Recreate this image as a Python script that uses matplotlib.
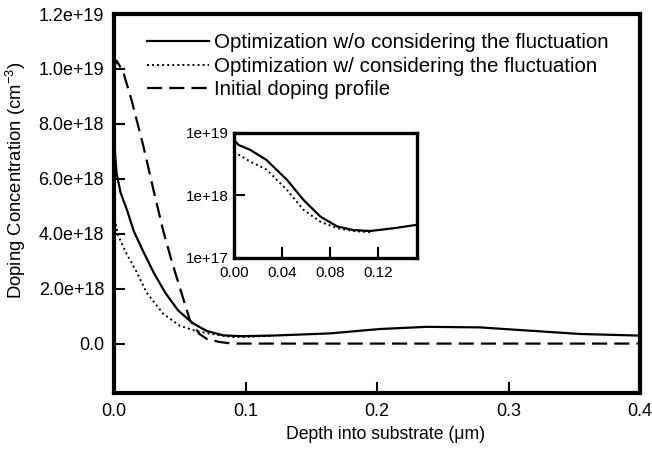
import matplotlib
matplotlib.use("Agg")
from matplotlib import pyplot as plt
import numpy as np

plt.rcParams['font.family'] = ['Liberation Sans', 'DejaVu Sans']
plt.rcParams['mathtext.default'] = 'regular'

# main plot, concentrations in units of 1e18 cm^-3
solid_x = [0, 0.001, 0.002, 0.005, 0.010, 0.015, 0.0223, 0.030, 0.039, 0.0489, 0.060,
           0.0705, 0.083, 0.096, 0.12, 0.164, 0.202, 0.238, 0.278, 0.316, 0.354, 0.4]
solid_y = [7.6, 6.8, 6.2, 5.5, 4.85, 4.1, 3.35, 2.6, 1.85, 1.2, 0.74,
           0.46, 0.30, 0.27, 0.29, 0.37, 0.53, 0.61, 0.59, 0.47, 0.35, 0.29]

dotted_x = [0, 0.001, 0.003, 0.0097, 0.0173, 0.0249, 0.0375, 0.050, 0.0629,
            0.078, 0.09, 0.10, 0.12]
dotted_y = [4.9, 4.45, 3.95, 3.26, 2.6, 1.85, 1.08, 0.65, 0.45,
            0.32, 0.24, 0.24, 0.29]

dashed_x = [0, 0.002, 0.007, 0.0135, 0.0223, 0.030, 0.0375, 0.0439, 0.0578,
            0.065, 0.0705, 0.08, 0.09, 0.2, 0.3, 0.4]
dashed_y = [10.05, 10.3, 9.9, 8.84, 7.2, 5.6, 4.1, 3.0, 0.84,
            0.35, 0.17, 0.06, 0.0, 0.0, 0.0, 0.0]

labels = ["Optimization w/o considering the fluctuation",
          "Optimization w/ considering the fluctuation",
          "Initial doping profile"]

xtick_vals = [0.0, 0.1, 0.2, 0.3, 0.4]
xtick_labels = ["0.0", "0.1", "0.2", "0.3", "0.4"]
ytick_vals = [0, 2e18, 4e18, 6e18, 8e18, 1e19, 1.2e19]
ytick_labels = ["0.0", "2.0e+18", "4.0e+18", "6.0e+18", "8.0e+18", "1.0e+19", "1.2e+19"]

# inset (log scale)
inset_solid_x = [0, 0.004, 0.0133, 0.027, 0.044, 0.0577, 0.0717, 0.0856, 0.099, 0.113, 0.133, 0.152]
inset_solid_y = [7.7e18, 6.4e18, 5.4e18, 3.7e18, 1.78e18, 0.85e18, 0.46e18, 0.32e18,
                 0.28e18, 0.27e18, 0.30e18, 0.34e18]
inset_dotted_x = [0, 0.0133, 0.027, 0.044, 0.0577, 0.0717, 0.0856, 0.099, 0.113]
inset_dotted_y = [5.0e18, 3.5e18, 2.6e18, 1.23e18, 0.59e18, 0.38e18, 0.30e18, 0.27e18, 0.26e18]

inset_xticks = [0.0, 0.04, 0.08, 0.12]
inset_xlabels = ["0.00", "0.04", "0.08", "0.12"]
inset_yticks = [1e17, 1e18, 1e19]
inset_ylabels = ["1e+17", "1e+18", "1e+19"]

fig = plt.figure(figsize=(6.52, 4.49), dpi=100)
ax = fig.add_axes([0.1748, 0.1247, 0.807, 0.844])

ax.plot(solid_x, np.array(solid_y) * 1e18, color='black', lw=1.6, label=labels[0])
ax.plot(dotted_x, np.array(dotted_y) * 1e18, color='black', lw=1.4,
        linestyle=(0, (1, 1.6)), label=labels[1])
ax.plot(dashed_x, np.array(dashed_y) * 1e18, color='black', lw=1.6,
        dashes=[6.8, 3.2], label=labels[2])

ax.set_xlim(0, 0.4)
ax.set_ylim(-1.8e18, 1.2e19)
ax.set_xticks(xtick_vals, xtick_labels)
ax.set_yticks(ytick_vals, ytick_labels)
ax.tick_params(direction='in', length=8, width=1.5, labelsize=13, pad=7)
for s in ax.spines.values():
    s.set_linewidth(3)
ax.set_xlabel("Depth into substrate (\u03bcm)", fontsize=12.7)
ax.set_ylabel("Doping Concentration (cm$^{-3}$)", fontsize=13.3)
ax.xaxis.set_label_coords(0.517, -0.087)
ax.yaxis.set_label_coords(-0.163, 0.562)

ax.legend(loc='upper left', bbox_to_anchor=(0.2255, 0.926), bbox_transform=fig.transFigure,
          frameon=False, fontsize=14.8, handlelength=3.0, handletextpad=0.25,
          labelspacing=0.22, borderpad=0, borderaxespad=0)

ins = fig.add_axes([0.3589, 0.4254, 0.2807, 0.2784])
ins.plot(inset_solid_x, inset_solid_y, color='black', lw=1.6)
ins.plot(inset_dotted_x, inset_dotted_y, color='black', lw=1.4, linestyle=(0, (1, 1.6)))
ins.set_yscale('log')
ins.set_xlim(0, 0.152)
ins.set_ylim(1e17, 1e19)
ins.set_xticks(inset_xticks, inset_xlabels)
ins.set_yticks(inset_yticks, inset_ylabels)
ins.minorticks_off()
ins.tick_params(direction='in', length=8, width=1.5, labelsize=11)
ins.tick_params(axis='x', pad=6)
ins.tick_params(axis='y', pad=4)
for s in ins.spines.values():
    s.set_linewidth(2.4)

fig.savefig("out.png", dpi=100)
